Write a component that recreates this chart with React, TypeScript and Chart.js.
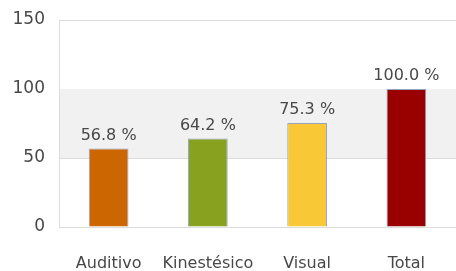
import React, { useEffect, useRef } from "react";
import { Chart, registerables } from "chart.js";

Chart.register(...registerables);

const categories = ["Auditivo", "Kinestésico", "Visual", "Total"];
const values = [56.8, 64.2, 75.3, 100.0];
const barColors = ["#cc6600", "#88a11e", "#f9c837", "#990000"];
const yTicks = [0, 50, 100, 150];

const FONT = "'DejaVu Sans', Verdana, sans-serif";

const bandPlugin = {
  id: "bands",
  beforeDatasetsDraw(chart: any) {
    const { ctx, chartArea, scales } = chart;
    const y = scales.y;
    const top = y.getPixelForValue(100);
    const bot = y.getPixelForValue(50);
    ctx.save();
    ctx.fillStyle = "#f1f1f1";
    ctx.fillRect(chartArea.left + 1, top, chartArea.right - chartArea.left, bot - top);
    ctx.restore();
  },
};

const labelPlugin = {
  id: "valueLabels",
  afterDatasetsDraw(chart: any) {
    const { ctx } = chart;
    const meta = chart.getDatasetMeta(0);
    ctx.save();
    ctx.font = `16px ${FONT}`;
    ctx.fillStyle = "#484848";
    ctx.textAlign = "center";
    ctx.textBaseline = "bottom";
    meta.data.forEach((el: any, i: number) => {
      ctx.fillText(values[i].toFixed(1) + " %", el.x, el.y - 5);
    });
    ctx.restore();
  },
};

export default function App() {
  const ref = useRef<HTMLCanvasElement>(null);
  useEffect(() => {
    document.body.style.margin = "0";
    const chart = new Chart(ref.current!, {
      type: "bar",
      data: {
        labels: categories,
        datasets: [
          {
            data: values,
            backgroundColor: barColors,
            borderColor: "rgba(110,130,170,0.7)",
            borderWidth: 1,
            barPercentage: 0.4,
            categoryPercentage: 1,
          },
        ],
      },
      options: {
        animation: false,
        responsive: false,
        maintainAspectRatio: false,
        layout: { padding: { top: 20, right: 0, left: 0, bottom: 0 } },
        plugins: { legend: { display: false }, tooltip: { enabled: false } },
        scales: {
          x: {
            grid: { display: false },
            border: { display: false },
            ticks: { font: { family: FONT, size: 16 }, color: "#484848", padding: 19 },
            afterFit(scale: any) {
              scale.height = 44;
              scale.paddingLeft = 0;
              scale.paddingRight = 0;
            },
          },
          y: {
            min: 0,
            max: 150,
            afterBuildTicks(scale: any) {
              scale.ticks = yTicks.map((v) => ({ value: v }));
            },
            grid: { color: "#dcdcdc", drawTicks: false },
            border: { display: true, color: "#dcdcdc" },
            ticks: { font: { family: FONT, size: 17 }, color: "#484848", padding: 14 },
            afterFit(scale: any) {
              scale.width = 59;
              scale.paddingTop = 0;
              scale.paddingBottom = 0;
            },
          },
        },
      },
      plugins: [bandPlugin, labelPlugin],
    });
    return () => chart.destroy();
  }, []);
  return <canvas ref={ref} width={456} height={271} style={{ display: "block" }} />;
}
